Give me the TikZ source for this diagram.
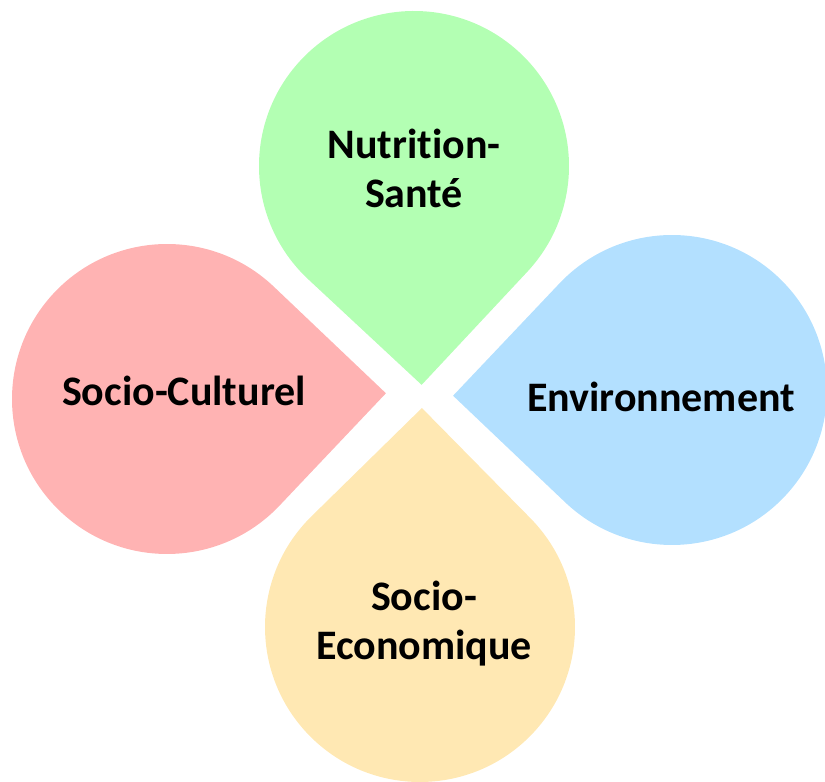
\documentclass[tikz,border=0pt]{standalone}
\usepackage{fontspec}
\setmainfont[Ligatures=NoCommon]{Carlito}
\definecolor{cgreen}{RGB}{179,255,179}
\definecolor{cblue}{RGB}{179,224,255}
\definecolor{cred}{RGB}{255,179,179}
\definecolor{cyellow}{RGB}{255,232,179}
\tikzset{
  lbl/.style={font=\fontsize{42}{49}\selectfont\bfseries, align=center, text=black, inner sep=0pt},
}
% #1 colour, #2 centre, #3 tip angle
\newcommand{\petal}[3]{%
  \fill[#1] (#2) ++(#3+45:155) arc[start angle=#3+45, end angle=#3+315, radius=155] -- ($(#2)+(#3:219)$) -- cycle;
}
\usetikzlibrary{calc}
\begin{document}
\begin{tikzpicture}[x=1pt,y=1pt]
\useasboundingbox (0,0) rectangle (825,782);
\coordinate (cg) at (414,616);
\coordinate (cb) at (672,392);
\coordinate (cr) at (167,383);
\coordinate (cy) at (420,155);
\petal{cgreen}{cg}{-88}
\petal{cblue}{cb}{181.5}
\petal{cred}{cr}{1.5}
\petal{cyellow}{cy}{89.5}
\node[lbl] (ng) at (414,614) {Nutrition-\\Santé};
\node[lbl] (nb) at (661,385) {Environnement};
\node[lbl] (nr) at (184,391) {Socio-Culturel};
\node[lbl] (ny) at (424,158) {Socio-\\Economique};
\end{tikzpicture}
\end{document}
